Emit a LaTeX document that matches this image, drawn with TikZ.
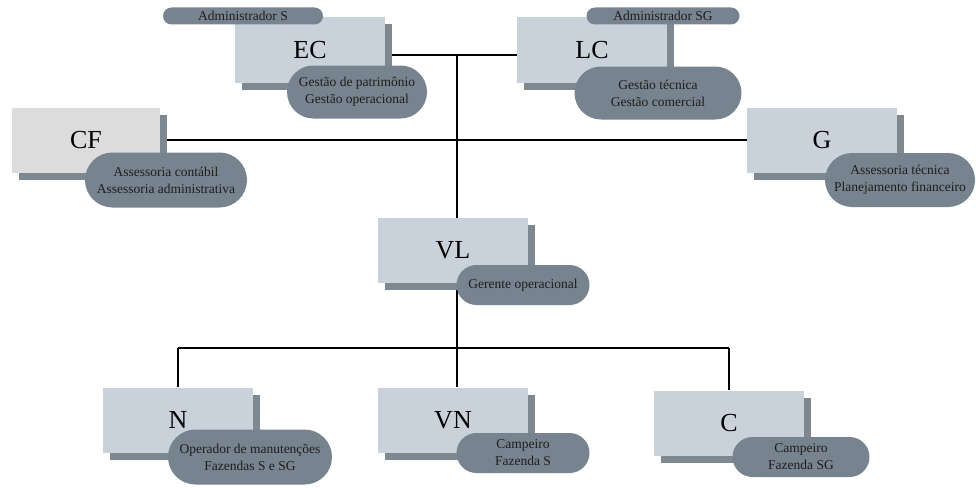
\documentclass[tikz,border=0pt]{standalone}
\usepackage{fontspec}
\setmainfont{Liberation Serif}
\usetikzlibrary{shapes.misc,shadows}
\definecolor{boxfill}{HTML}{C9D1DA}
\definecolor{greyfill}{HTML}{DCDCDC}
\definecolor{shadowgrey}{HTML}{7E8891}
\definecolor{pillfill}{HTML}{77838F}
\definecolor{pilltext}{HTML}{1E1E1E}
\pgfdeclarelayer{background}
\pgfsetlayers{background,main}

\begin{document}
\begin{tikzpicture}[x=1pt,y=-1pt,
    unit/.style={rectangle, fill=boxfill, minimum width=150pt, minimum height=65pt,
      inner sep=0pt, font=\fontsize{26}{26}\selectfont,
      drop shadow={shadow xshift=7pt, shadow yshift=-7pt, fill=shadowgrey, opacity=1}},
    pill/.style={rounded rectangle, fill=pillfill, text=pilltext, inner sep=0pt,
      align=center, font=\fontsize{13.5}{17}\selectfont},
    link/.style={black, line width=2pt}]
  \useasboundingbox (0,0) rectangle (976,487);

  % units
  \node[unit] (ec) at (310,50) {EC};
  \node[unit] (lc) at (592,50) {LC};
  \node[unit, fill=greyfill, minimum width=148pt] (cf) at (86,140) {CF};
  \node[unit] (g) at (822,140) {G};
  \node[unit] (vl) at (453,250) {VL};
  \node[unit] (n) at (178,420) {N};
  \node[unit] (vn) at (453,420) {VN};
  \node[unit] (c) at (729,423) {C};

  % roles
  \node[pill, minimum width=160pt, minimum height=17pt] (ecadm) at (243,16) {Administrador S};
  \node[pill, minimum width=140pt, minimum height=53pt] (ecrole) at (357,92) {Gestão de patrimônio\\Gestão operacional};
  \node[pill, minimum width=153pt, minimum height=17pt] (lcadm) at (663,16) {Administrador SG};
  \node[pill, minimum width=167pt, minimum height=53pt] (lcrole) at (658,93) {Gestão técnica\\Gestão comercial};
  \node[pill, minimum width=162pt, minimum height=55pt] (cfrole) at (166,180) {Assessoria contábil\\Assessoria administrativa};
  \node[pill, minimum width=150pt, minimum height=54pt] (grole) at (900,180) {Assessoria técnica\\Planejamento financeiro};
  \node[pill, minimum width=133pt, minimum height=40pt] (vlrole) at (523,285) {Gerente operacional};
  \node[pill, minimum width=164pt, minimum height=55pt] (nrole) at (250,457) {Operador de manutenções\\Fazendas S e SG};
  \node[pill, minimum width=133pt, minimum height=40pt] (vnrole) at (523,453) {Campeiro\\Fazenda S};
  \node[pill, minimum width=137pt, minimum height=40pt] (crole) at (801,457) {Campeiro\\Fazenda SG};

  % links
  \coordinate (top) at (457,55);
  \coordinate (bus) at (457,348);
  \begin{pgfonlayer}{background}
    \draw[link] (ec.east |- top) -- (lc.west |- top);
    \draw[link] (cf.east) -- (g.west);
    \draw[link] (top) -- (bus);
    \draw[link] (n.north |- bus) -- (c.north |- bus);
    \draw[link] (n.north |- bus) -- (n.north);
    \draw[link] (bus) -- (bus |- vn.north);
    \draw[link] (c.north |- bus) -- (c.north);
  \end{pgfonlayer}
\end{tikzpicture}
\end{document}
